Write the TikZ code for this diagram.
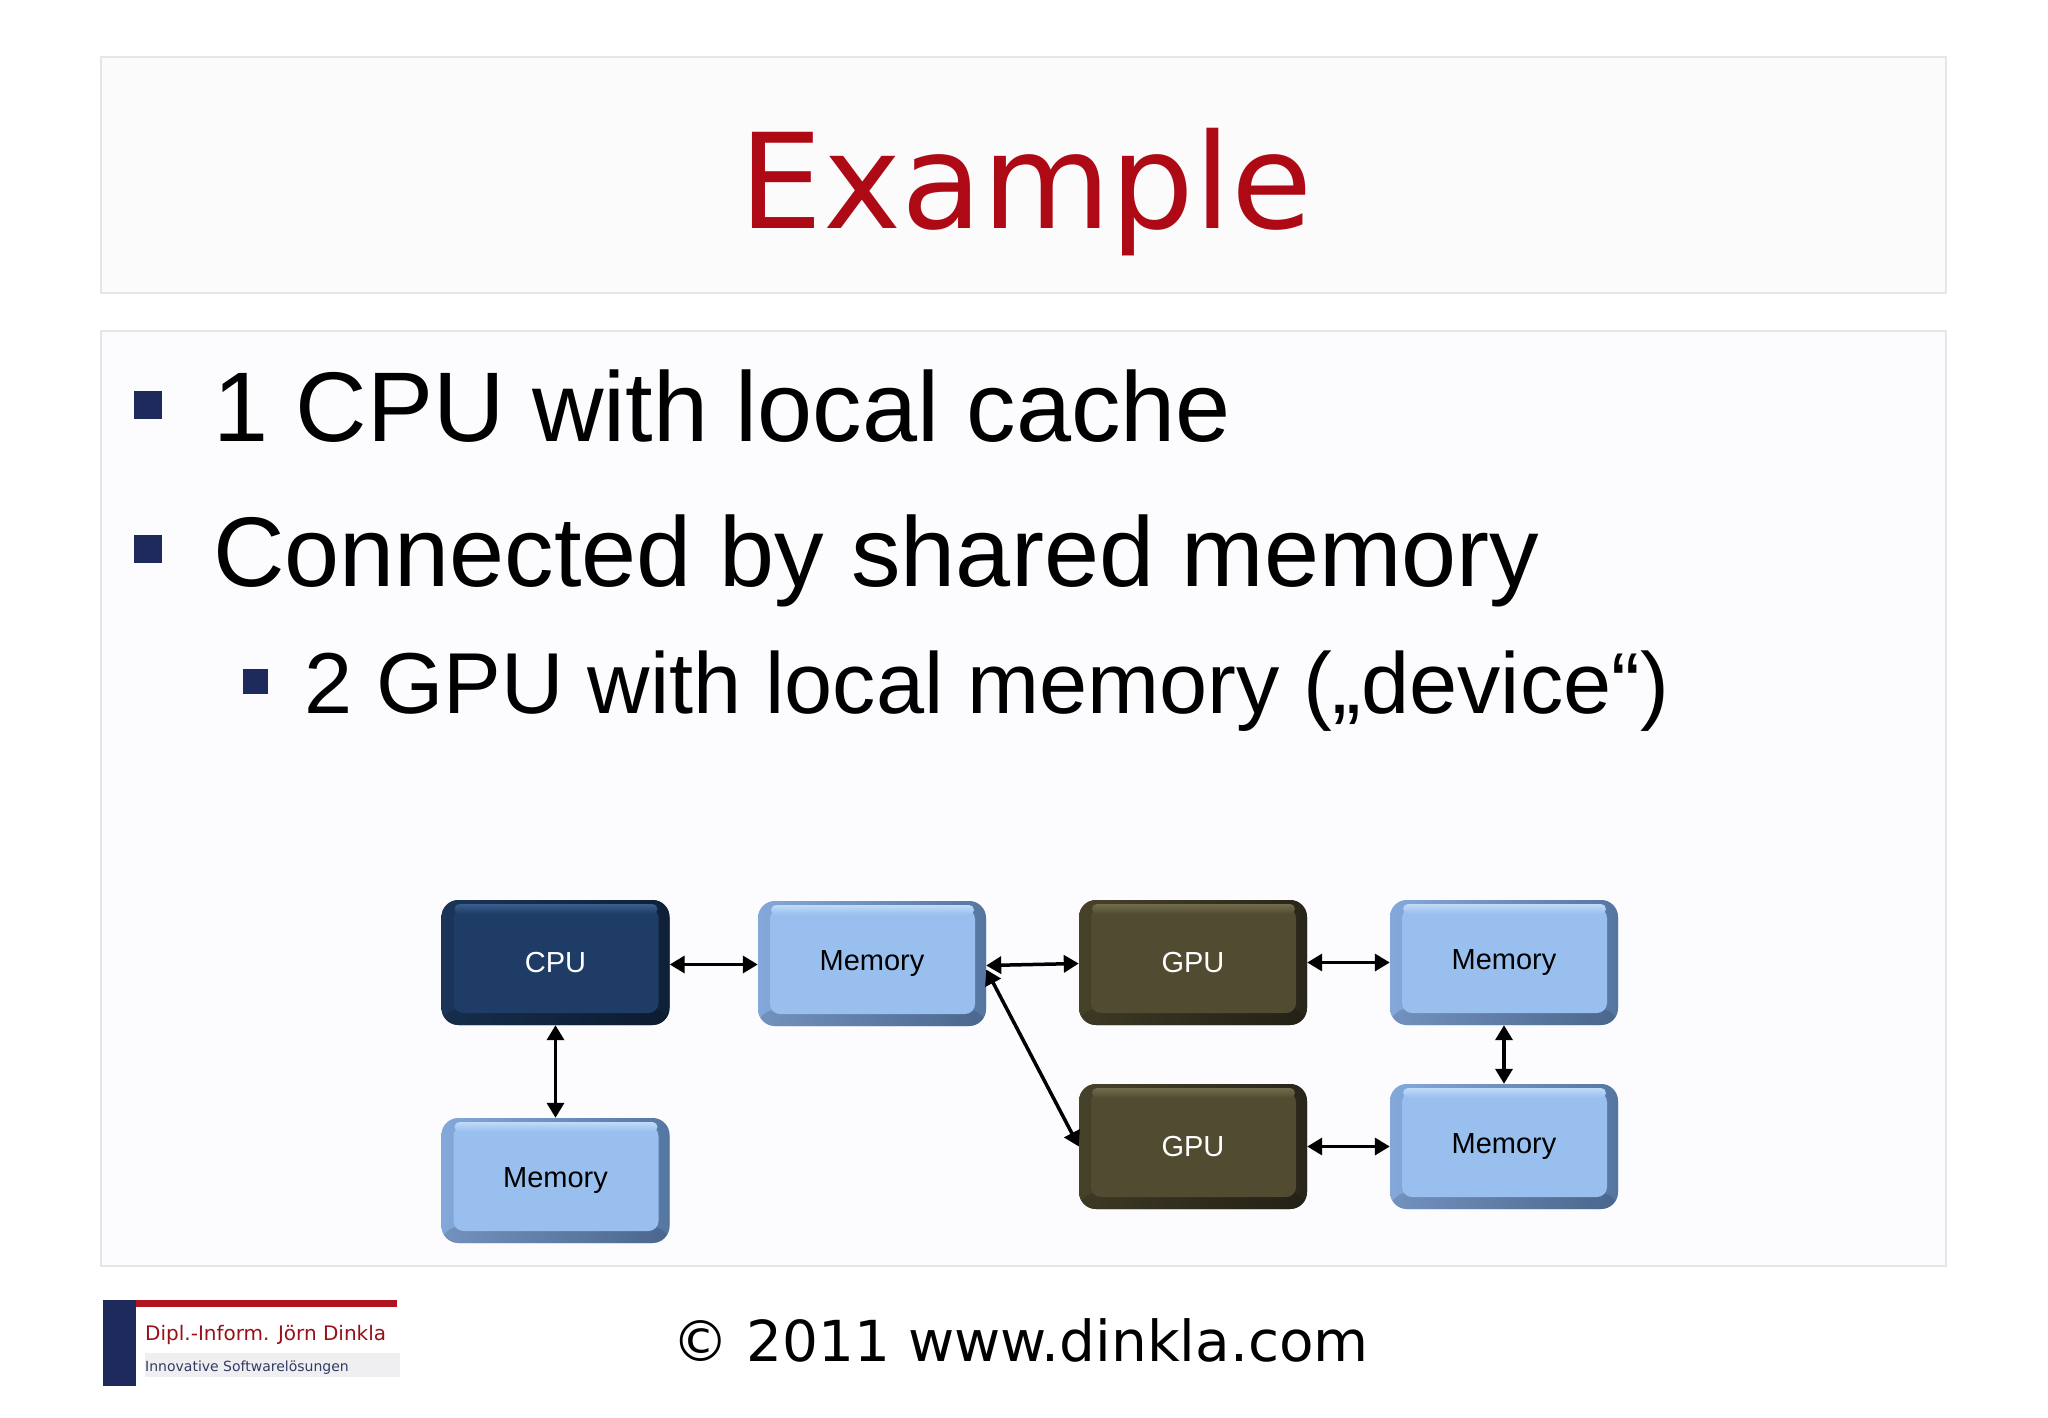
\documentclass[tikz,border=0pt]{standalone}
\usepackage{fontspec}
\setmainfont{Liberation Sans}
\newfontfamily\dejavu{DejaVu Sans}
\usetikzlibrary{arrows.meta}
\definecolor{panelline}{HTML}{E6E6E8}
\definecolor{titlefill}{HTML}{FBFBFC}
\definecolor{bodyfill}{HTML}{FCFBFE}
\definecolor{titlered}{HTML}{AE0A16}
\definecolor{bulletnavy}{HTML}{1F2A5C}
\definecolor{cpuleft}{HTML}{1A3558}
\definecolor{cpuright}{HTML}{0F2038}
\definecolor{cpumain}{HTML}{1E3C66}
\definecolor{cpuhi}{HTML}{3A5E8C}
\definecolor{gpuleft}{HTML}{46422A}
\definecolor{gpuright}{HTML}{29261A}
\definecolor{gpumain}{HTML}{514C31}
\definecolor{gpuhi}{HTML}{726C4E}
\definecolor{memleft}{HTML}{84A8DA}
\definecolor{memright}{HTML}{5676A2}
\definecolor{memmain}{HTML}{98BFEE}
\definecolor{memhi}{HTML}{C0DAF8}
\definecolor{logored}{HTML}{B0141E}
\definecolor{logogray}{HTML}{EFEFF2}
\tikzset{
  boxbase/.style n args={4}{rectangle, rounded corners=17pt, minimum width=228pt,
    minimum height=125pt, inner sep=0pt, fill=#3,
    font=\fontsize{29}{32}\selectfont,
    path picture={
      \shade[left color=#1, right color=#2]
        (path picture bounding box.north west) rectangle (path picture bounding box.south east);
      \fill[black, opacity=0.13]
        ([yshift=16pt]path picture bounding box.south west) rectangle (path picture bounding box.south east);
      \fill[#3, rounded corners=10pt]
        ([xshift=12pt,yshift=-8pt]path picture bounding box.north west) rectangle
        ([xshift=-11pt,yshift=12pt]path picture bounding box.south east);
      \shade[top color=#4, bottom color=#3, rounded corners=5pt]
        ([xshift=13pt,yshift=-4pt]path picture bounding box.north west) rectangle
        ([xshift=-12pt,yshift=-14pt]path picture bounding box.north east);
    }},
  cpubox/.style={boxbase={cpuleft}{cpuright}{cpumain}{cpuhi}, text=white},
  gpubox/.style={boxbase={gpuleft}{gpuright}{gpumain}{gpuhi}, text=white},
  membox/.style={boxbase={memleft}{memright}{memmain}{memhi}, text=black},
  conn/.style={line width=3.5pt, draw=black,
    {Triangle[length=15pt,width=17pt]}-{Triangle[length=15pt,width=17pt]}},
  panel/.style={draw=panelline, line width=2pt},
  bigtext/.style={anchor=base west, inner sep=0pt, font=\fontsize{99}{110}\selectfont},
  subtext/.style={anchor=base west, inner sep=0pt, font=\fontsize{86.5}{96}\selectfont},
  bulletsq/.style={fill=bulletnavy}
}
\begin{document}
\begin{tikzpicture}[x=1pt,y=-1pt]
\useasboundingbox (0,0) rectangle (2048,1418);
\fill[white] (0,0) rectangle (2048,1418);
% panels
\draw[panel, fill=titlefill] (101,57) rectangle (1946,293);
\draw[panel, fill=bodyfill] (101,331) rectangle (1946,1266);
% title
\node[anchor=base, inner sep=0pt, text=titlered, font=\dejavu\fontsize{132}{140}\selectfont] (title) at (1026,228) {Example};
% bullets
\fill[bulletsq] (134,391) rectangle (162,419);
\node[bigtext] (b1) at (213,441) {1 CPU with local cache};
\fill[bulletsq] (134,535) rectangle (162,563);
\node[bigtext] (b2) at (213,586) {Connected by shared memory};
\fill[bulletsq] (243,669) rectangle (268,694);
\node[subtext] (b3) at (304,713) {2 GPU with local memory („device“)};
% diagram boxes
\node[cpubox] (cpu) at (555.5,962.5) {CPU};
\node[membox] (mb) at (555.5,1180.5) {Memory};
\node[membox] (m1) at (872,963.5) {Memory};
\node[gpubox] (g1) at (1193,962.5) {GPU};
\node[membox] (r1) at (1504,962.5) {Memory};
\node[gpubox] (g2) at (1193,1146.5) {GPU};
\node[membox] (r2) at (1504,1146.5) {Memory};
% connectors
\draw[conn] ([yshift=-2pt]cpu.east) -- ([yshift=-1pt]m1.west);
\draw[conn] (cpu.south) -- (mb.north);
\draw[conn] ([yshift=-2pt]m1.east) -- ([yshift=-1pt]g1.west);
\draw[conn] ([yshift=-6pt]m1.east) -- (g2.west);
\draw[conn] (g1.east) -- (r1.west);
\draw[conn] (r1.south) -- (r2.north);
\draw[conn] (g2.east) -- (r2.west);
% footer logo
\fill[logogray] (145,1353) rectangle (400,1377);
\fill[logored] (103,1300) rectangle (397,1307);
\fill[bulletnavy] (103,1300) rectangle (136,1386);
\node[anchor=base west, inner sep=0pt, text=logored!85!black, font=\dejavu\fontsize{20}{22}\selectfont] (logo1) at (145,1340) {Dipl.-Inform. Jörn Dinkla};
\node[anchor=base west, inner sep=0pt, text=bulletnavy!80!gray, font=\dejavu\fontsize{14}{16}\selectfont] (logo2) at (145,1371) {Innovative Softwarelösungen};
% footer copyright
\node[anchor=base west, inner sep=0pt, text=black, font=\dejavu\fontsize{56.5}{60}\selectfont] (copy) at (672,1361) {© 2011 www.dinkla.com};
\end{tikzpicture}
\end{document}
